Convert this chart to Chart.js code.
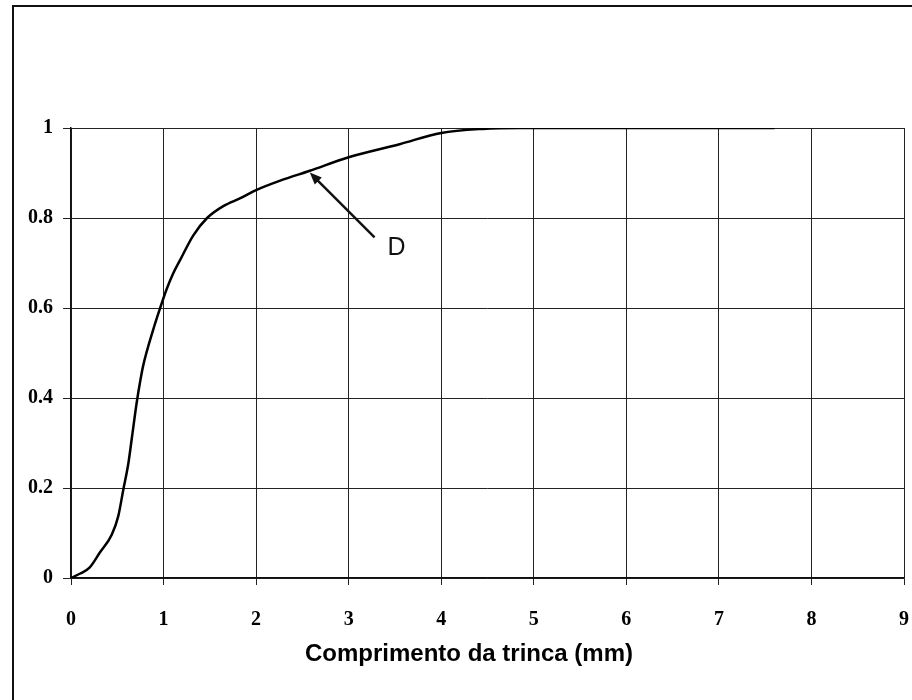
<!DOCTYPE html>
<html>
<head>
<meta charset="utf-8">
<script src="https://cdn.jsdelivr.net/npm/chart.js@4"></script>
<style>
  html, body { margin: 0; padding: 0; background: #fff; overflow: hidden; }
  #wrap { position: relative; width: 912px; height: 700px; }
  #frame {
    position: absolute; left: 12px; top: 5px; width: 1000px; height: 1000px;
    border: 2px solid #111; pointer-events: none;
  }
</style>
</head>
<body>
<div id="wrap">
  <canvas id="crackChart" width="912" height="700"></canvas>
  <div id="frame"></div>
</div>
<script>
// crack length (mm) vs cumulative probability
const crackLength = [0, 0.1, 0.2, 0.31, 0.44, 0.51, 0.565, 0.62, 0.66, 0.71, 0.75, 0.78, 0.89, 0.96, 1.03,
  1.1, 1.18, 1.32, 1.47, 1.65, 1.83, 2.0, 2.26, 2.58, 3.0, 3.55, 4.0, 4.45, 4.85, 5.5, 6.5, 7.6];
const probability = [0, 0.01, 0.023, 0.056, 0.096, 0.137, 0.196, 0.255, 0.315, 0.39, 0.44, 0.472, 0.553, 0.598, 0.64,
  0.675, 0.707, 0.761, 0.8, 0.827, 0.844, 0.862, 0.883, 0.905, 0.935, 0.964, 0.989, 0.998, 1, 1, 1, 1];

const xTicks = [0, 1, 2, 3, 4, 5, 6, 7, 8, 9];
const yTicks = [0, 0.2, 0.4, 0.6, 0.8, 1];

const axisTitle = "Comprimento da trinca (mm)";
const curveLabel = "D";
// arrow from label towards the curve, in data units
const arrowTail = [3.28, 0.757];
const arrowHead = [2.58, 0.901];
const labelPos = [3.42, 0.717];
const titleCenterX = 4.3;

const serif = "'Liberation Serif', 'Times New Roman', serif";
const sans = "'Liberation Sans', Arial, sans-serif";

// draws the "D" arrow and the x axis caption
const notesPlugin = {
  id: 'notes',
  afterDraw(chart) {
    const ctx = chart.ctx;
    const xs = chart.scales.x;
    const ys = chart.scales.y;
    const tx = xs.getPixelForValue(arrowTail[0]), ty = ys.getPixelForValue(arrowTail[1]);
    const hx = xs.getPixelForValue(arrowHead[0]), hy = ys.getPixelForValue(arrowHead[1]);
    const ang = Math.atan2(hy - ty, hx - tx);

    ctx.save();
    ctx.strokeStyle = '#111';
    ctx.fillStyle = '#111';
    ctx.lineWidth = 2.5;
    ctx.beginPath();
    ctx.moveTo(tx, ty);
    ctx.lineTo(hx - 6 * Math.cos(ang), hy - 6 * Math.sin(ang));
    ctx.stroke();

    ctx.beginPath();
    ctx.moveTo(hx, hy);
    ctx.lineTo(hx - 12 * Math.cos(ang) + 5 * Math.sin(ang), hy - 12 * Math.sin(ang) - 5 * Math.cos(ang));
    ctx.lineTo(hx - 12 * Math.cos(ang) - 5 * Math.sin(ang), hy - 12 * Math.sin(ang) + 5 * Math.cos(ang));
    ctx.closePath();
    ctx.fill();

    ctx.font = '25px ' + sans;
    ctx.textAlign = 'left';
    ctx.textBaseline = 'alphabetic';
    ctx.fillText(curveLabel, xs.getPixelForValue(labelPos[0]), ys.getPixelForValue(labelPos[1]));

    ctx.font = 'bold 24px ' + sans;
    ctx.textAlign = 'center';
    ctx.fillStyle = '#000';
    ctx.fillText(axisTitle, xs.getPixelForValue(titleCenterX), 661);
    ctx.restore();
  }
};

document.addEventListener('DOMContentLoaded', function() {
  const ctx = document.getElementById('crackChart').getContext('2d');

  const points = crackLength.map((x, i) => ({ x: x, y: probability[i] }));

  new Chart(ctx, {
    type: 'line',
    data: {
      datasets: [{
        data: points,
        borderColor: '#000',
        borderWidth: 2.5,
        pointRadius: 0,
        fill: false,
        cubicInterpolationMode: 'monotone'
      }]
    },
    options: {
      responsive: false,
      animation: false,
      layout: { padding: { left: 0, right: 8, top: 128, bottom: 0 } },
      plugins: {
        legend: { display: false },
        tooltip: { enabled: false }
      },
      scales: {
        x: {
          type: 'linear',
          min: 0,
          max: 9,
          afterBuildTicks: (scale) => { scale.ticks = xTicks.map(v => ({ value: v })); },
          afterFit: (scale) => {
            scale.height = 122;
            scale.paddingLeft = 0;
            scale.paddingRight = 0;
          },
          grid: { color: '#222', lineWidth: 1, tickLength: 7, drawTicks: true },
          border: { color: '#111', width: 1.5 },
          ticks: {
            color: '#000',
            padding: 23,
            maxRotation: 0,
            font: { family: serif, size: 20, weight: 'bold' },
            callback: (v) => String(v)
          }
        },
        y: {
          min: 0,
          max: 1,
          afterBuildTicks: (scale) => { scale.ticks = yTicks.map(v => ({ value: v })); },
          afterFit: (scale) => {
            scale.width = 71;
            scale.paddingTop = 0;
            scale.paddingBottom = 0;
          },
          grid: { color: '#222', lineWidth: 1, tickLength: 8 },
          border: { color: '#111', width: 1.5 },
          ticks: {
            color: '#000',
            padding: 10,
            font: { family: serif, size: 20, weight: 'bold' },
            callback: (v) => String(v)
          }
        }
      }
    },
    plugins: [notesPlugin]
  });
});
</script>
</body>
</html>
